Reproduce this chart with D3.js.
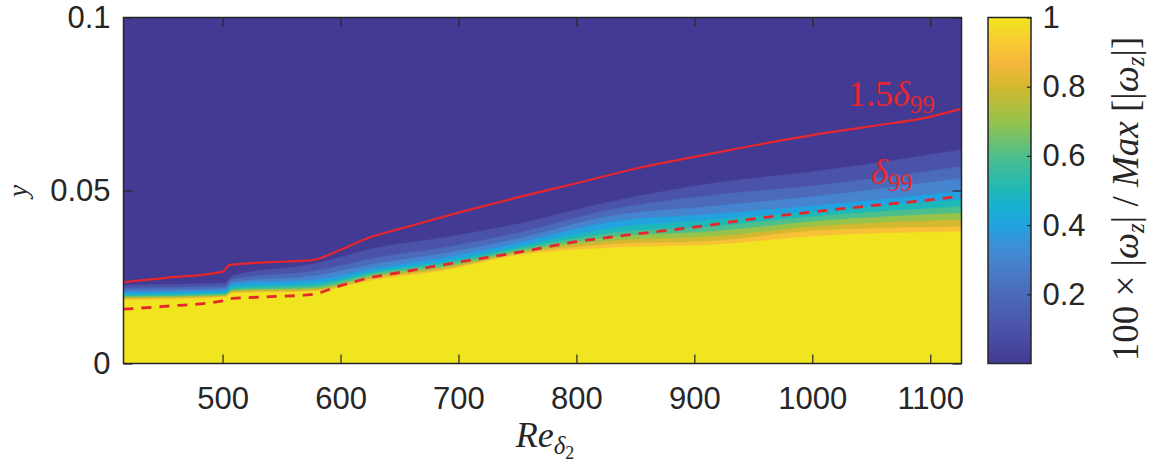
<!DOCTYPE html>
<html>
<head>
<meta charset="utf-8">
<script src="https://cdn.jsdelivr.net/npm/d3@7"></script>
<style>
  body { margin: 0; background: #fff; }
  svg { display: block; }
</style>
</head>
<body>
<svg></svg>
<script>
const width = 1154;
const height = 464;

const bandRe = [416, 502, 508, 578, 630, 686, 750, 828, 918, 1000, 1126];
// y position of each contour level (0.1 ... 1.0) at those stations
const lev10  = [0.0227, 0.0233, 0.0253, 0.0288, 0.0334, 0.0363, 0.0403, 0.0467, 0.0522, 0.0554, 0.0617];
const lev20  = [0.0218, 0.0224, 0.0244, 0.0267, 0.0305, 0.0334, 0.0377, 0.0444, 0.0487, 0.0513, 0.0569];
const lev30  = [0.0211, 0.0217, 0.0236, 0.0253, 0.0288, 0.0317, 0.0360, 0.0425, 0.0455, 0.0482, 0.0535];
const lev40  = [0.0205, 0.0211, 0.0230, 0.0241, 0.0275, 0.0304, 0.0347, 0.0408, 0.0432, 0.0455, 0.0497];
const lev50  = [0.0199, 0.0205, 0.0221, 0.0231, 0.0267, 0.0294, 0.0337, 0.0390, 0.0415, 0.0439, 0.0473];
const lev60  = [0.0195, 0.0201, 0.0215, 0.0224, 0.0262, 0.0287, 0.0330, 0.0376, 0.0397, 0.0424, 0.0453];
const lev70  = [0.0192, 0.0198, 0.0211, 0.0218, 0.0256, 0.0280, 0.0324, 0.0364, 0.0382, 0.0410, 0.0434];
const lev80  = [0.0189, 0.0195, 0.0208, 0.0214, 0.0251, 0.0275, 0.0319, 0.0354, 0.0367, 0.0395, 0.0415];
const lev90  = [0.0186, 0.0193, 0.0205, 0.0210, 0.0247, 0.0271, 0.0316, 0.0344, 0.0354, 0.0383, 0.0395];
const lev100 = [0.0183, 0.0191, 0.0202, 0.0208, 0.0241, 0.0267, 0.0312, 0.0334, 0.0343, 0.0367, 0.0381];
const levelValues = [0.1, 0.2, 0.3, 0.4, 0.5, 0.6, 0.7, 0.8, 0.9, 1.0];

// boundary layer thickness lines
const lineRe    = [416, 450, 500, 506, 540, 575, 600, 625, 650, 700, 750, 800, 850, 900, 950, 1000, 1050, 1100, 1126];
const delta99   = [0.0157, 0.0165, 0.0181, 0.0187, 0.0193, 0.0199, 0.0225, 0.0248, 0.0263, 0.0293, 0.0321, 0.0352, 0.0374, 0.0394, 0.0418, 0.0438, 0.0456, 0.0473, 0.0484];
const delta99x15 = [0.0235, 0.0247, 0.0265, 0.0285, 0.0293, 0.0298, 0.0329, 0.0365, 0.0389, 0.0436, 0.0480, 0.0521, 0.0563, 0.0597, 0.0630, 0.0660, 0.0686, 0.0713, 0.0736];

const xTicks = [500, 600, 700, 800, 900, 1000, 1100];
const yTicks = [0, 0.05, 0.1];
const cTicks = [0.2, 0.4, 0.6, 0.8, 1];

// parula-like colormap as it looks in the figure
const cmapStops  = [0, 0.1, 0.2, 0.3, 0.35, 0.4, 0.45, 0.5, 0.6, 0.7, 0.8, 0.87, 0.93, 1];
const cmapColors = ["#433a94", "#4b53a8", "#4b6aba", "#4684cf", "#3893d8", "#22a3df", "#18b0d2",
                    "#1fb8b8", "#4dbf8c", "#97c34a", "#d3b92f", "#f6b73c", "#f9cb31", "#f1e51f"];

const axisColor = "#262626";
const red = "#e6262d";
const sans = "'Liberation Sans', Arial, Helvetica, sans-serif";
const serif = "'Liberation Serif', 'Times New Roman', serif";

let svg = d3.select("svg").attr("width", width).attr("height", height);
svg.append("rect").attr("width", width).attr("height", height).attr("fill", "#fff");

const x = d3.scaleLinear().domain([416, 1126.5]).range([123.5, 961.5]);
const y = d3.scaleLinear().domain([0, 0.1]).range([363.5, 17.5]);
const cmap = d3.scaleLinear().domain(cmapStops).range(cmapColors);

svg.append("defs").append("clipPath").attr("id", "clip")
  .append("rect")
  .attr("x", x.range()[0]).attr("y", y.range()[1])
  .attr("width", x.range()[1] - x.range()[0])
  .attr("height", y.range()[0] - y.range()[1]);

// filled contours: paint lowest level first, each higher level over it
const plot = svg.append("g").attr("clip-path", "url(#clip)");
plot.append("rect")
  .attr("x", x.range()[0]).attr("y", y.range()[1])
  .attr("width", x.range()[1] - x.range()[0])
  .attr("height", y.range()[0] - y.range()[1])
  .attr("fill", cmap(0));

const levels = [lev10, lev20, lev30, lev40, lev50, lev60, lev70, lev80, lev90, lev100];
const area = d3.area()
  .x(d => x(d[0]))
  .y0(y(0))
  .y1(d => y(d[1]))
  .curve(d3.curveMonotoneX);

levels.forEach((ys, i) => {
  const pts = bandRe.map((r, j) => [r, ys[j]]);
  plot.append("path")
    .attr("d", area(pts))
    .attr("fill", cmap(levelValues[i]))
    .attr("stroke", cmap(levelValues[i]))
    .attr("stroke-width", 0.6);
});

// red lines
const line = d3.line().x(d => x(d[0])).y(d => y(d[1])).curve(d3.curveMonotoneX);
plot.append("path")
  .attr("d", line(lineRe.map((r, i) => [r, delta99x15[i]])))
  .attr("fill", "none").attr("stroke", red).attr("stroke-width", 2.2);
plot.append("path")
  .attr("d", line(lineRe.map((r, i) => [r, delta99[i]])))
  .attr("fill", "none").attr("stroke", red).attr("stroke-width", 2.8)
  .attr("stroke-dasharray", "10,8");

// line labels
const lab1 = svg.append("text").attr("x", 848).attr("y", 106)
  .attr("fill", red).attr("font-family", serif).attr("font-size", 36);
lab1.append("tspan").text("1.5");
lab1.append("tspan").attr("font-style", "italic").text("δ");
lab1.append("tspan").attr("font-size", 25).attr("dy", 7).text("99");

const lab2 = svg.append("text").attr("x", 871).attr("y", 184)
  .attr("fill", red).attr("font-family", serif).attr("font-size", 36);
lab2.append("tspan").attr("font-style", "italic").text("δ");
lab2.append("tspan").attr("font-size", 25).attr("dy", 7).text("99");

// axes
function styleAxis(g) {
  g.select(".domain").remove();
  g.selectAll(".tick line").attr("stroke", axisColor).attr("stroke-width", 1.2);
  g.selectAll(".tick text").attr("fill", axisColor)
    .attr("font-family", sans).attr("font-size", 31);
}

svg.append("g").attr("transform", `translate(0,${y(0)})`)
  .call(d3.axisBottom(x).tickValues(xTicks).tickSize(-9).tickPadding(23).tickFormat(d3.format("d")))
  .call(styleAxis);
svg.append("g").attr("transform", `translate(0,${y(0.1)})`)
  .call(d3.axisTop(x).tickValues(xTicks).tickSize(-9).tickFormat(""))
  .call(styleAxis);
svg.append("g").attr("transform", `translate(${x.range()[0]},0)`)
  .call(d3.axisLeft(y).tickValues(yTicks).tickSize(-9).tickPadding(13)
    .tickFormat(d => d === 0 ? "0" : String(d)))
  .call(styleAxis);
svg.append("g").attr("transform", `translate(${x.range()[1]},0)`)
  .call(d3.axisRight(y).tickValues(yTicks).tickSize(-9).tickFormat(""))
  .call(styleAxis);

svg.append("rect")
  .attr("x", x.range()[0]).attr("y", y.range()[1])
  .attr("width", x.range()[1] - x.range()[0])
  .attr("height", y.range()[0] - y.range()[1])
  .attr("fill", "none").attr("stroke", axisColor).attr("stroke-width", 1.5);

// axis labels
const xl = svg.append("text").attr("x", 545).attr("y", 447)
  .attr("text-anchor", "middle").attr("fill", axisColor)
  .attr("font-family", serif).attr("font-size", 36).attr("font-style", "italic");
xl.append("tspan").text("Re");
xl.append("tspan").attr("font-size", 25).attr("dy", 7).text("δ");
xl.append("tspan").attr("font-size", 18).attr("dy", 5).attr("font-style", "normal").text("2");

svg.append("text")
  .attr("transform", "translate(27,191) rotate(-90)")
  .attr("text-anchor", "middle").attr("fill", axisColor)
  .attr("font-family", serif).attr("font-size", 28).attr("font-style", "italic")
  .text("y");

// colorbar
const cb = { x: 988, w: 43 };
const c = d3.scaleLinear().domain([0, 1]).range([363.5, 17.5]);
const grad = svg.select("defs").append("linearGradient").attr("id", "cbgrad")
  .attr("x1", 0).attr("y1", 1).attr("x2", 0).attr("y2", 0);
cmapStops.forEach((s, i) => {
  grad.append("stop").attr("offset", s).attr("stop-color", cmapColors[i]);
});
svg.append("rect")
  .attr("x", cb.x).attr("y", c(1))
  .attr("width", cb.w).attr("height", c(0) - c(1))
  .attr("fill", "url(#cbgrad)");
svg.append("g").attr("transform", `translate(${cb.x + cb.w},0)`)
  .call(d3.axisRight(c).tickValues(cTicks).tickSize(-4).tickPadding(11.5)
    .tickFormat(d => String(d)))
  .call(styleAxis);
svg.append("rect")
  .attr("x", cb.x).attr("y", c(1))
  .attr("width", cb.w).attr("height", c(0) - c(1))
  .attr("fill", "none").attr("stroke", axisColor).attr("stroke-width", 1.5);

const cl = svg.append("text")
  .attr("transform", "translate(1138,199) rotate(-90)")
  .attr("text-anchor", "middle").attr("fill", axisColor)
  .attr("font-family", serif).attr("font-size", 37);
cl.append("tspan").text("100 × |");
cl.append("tspan").attr("font-style", "italic").text("ω");
cl.append("tspan").attr("font-style", "italic").attr("font-size", 25).attr("dy", 6).text("z");
cl.append("tspan").attr("dy", -6).text("| / ");
cl.append("tspan").attr("font-style", "italic").text("Max");
cl.append("tspan").text(" [|");
cl.append("tspan").attr("font-style", "italic").text("ω");
cl.append("tspan").attr("font-style", "italic").attr("font-size", 25).attr("dy", 6).text("z");
cl.append("tspan").attr("dy", -6).text("|]");
</script>
</body>
</html>
